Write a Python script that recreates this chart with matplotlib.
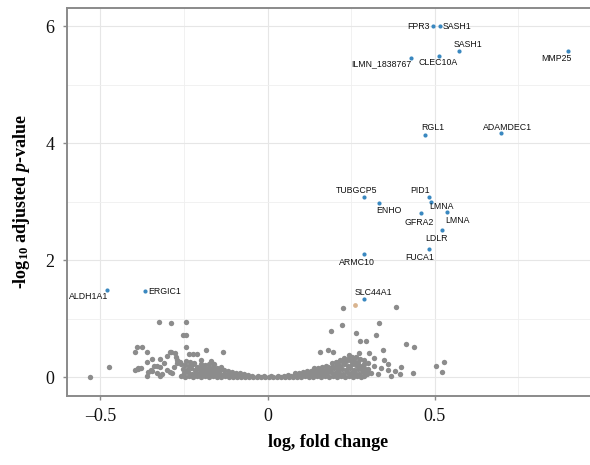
import numpy as np
import matplotlib
matplotlib.use('Agg')
import matplotlib.pyplot as plt
from matplotlib.ticker import MultipleLocator

# highlighted genes: name, log2 fold change, -log10 adjusted p
genes = ['FPR3', 'SASH1', 'SASH1', 'MMP25', 'ILMN_1838767', 'CLEC10A', 'RGL1', 'ADAMDEC1',
         'TUBGCP5', 'ENHO', 'PID1', 'LMNA', 'GFRA2', 'LMNA', 'LDLR', 'FUCA1', 'ARMC10',
         'SLC44A1', 'ALDH1A1', 'ERGIC1']
gene_fc = [0.494, 0.515, 0.572, 0.900, 0.428, 0.512, 0.470, 0.698,
           0.290, 0.335, 0.482, 0.488, 0.458, 0.536, 0.521, 0.482, 0.290,
           0.290, -0.479, -0.368]
gene_p = [6.00, 6.00, 5.57, 5.57, 5.45, 5.49, 4.14, 4.17,
          3.08, 2.97, 3.08, 2.99, 2.80, 2.82, 2.51, 2.19, 2.10,
          1.33, 1.49, 1.47]

# label placement (pixels from the point) and alignment
label_off = [(-3, 0), (3, 0), (9, 7), (-12, -7), (1, -5), (0, -7), (8, 7), (7, 6),
             (-8, 6), (9, -7), (-9, 6), (11, -4), (-1, -9), (11, -8), (-5, -8), (-9, -8), (-8, -8),
             (9, 7), (-19, -6), (4, 0)]
label_ha = ['right', 'left', 'center', 'center', 'right', 'center', 'center', 'center',
            'center', 'center', 'center', 'center', 'center', 'center', 'center', 'center', 'center',
            'center', 'center', 'left']

# all other probes (grey background cloud)
other_pts = [
    # dense core, along zero
    (-0.26, 0.02), (-0.248, 0.01), (-0.236, 0.03), (-0.224, 0.0), (-0.212, 0.02), (-0.20, 0.01),
    (-0.188, 0.03), (-0.176, 0.0), (-0.164, 0.02), (-0.152, 0.01), (-0.14, 0.0), (-0.128, 0.02),
    (-0.116, 0.01), (-0.104, 0.0), (-0.092, 0.01), (-0.08, 0.0), (-0.068, 0.01), (-0.056, 0.0),
    (-0.044, 0.01), (-0.032, 0.0), (-0.02, 0.0), (-0.008, 0.0), (0.004, 0.0), (0.016, 0.0),
    (0.028, 0.0), (0.04, 0.01), (0.052, 0.0), (0.064, 0.01), (0.076, 0.0), (0.088, 0.01),
    (0.10, 0.0), (0.112, 0.02), (0.124, 0.01), (0.136, 0.0), (0.148, 0.02), (0.16, 0.01),
    (0.172, 0.03), (0.184, 0.0), (0.196, 0.02), (0.208, 0.01), (0.22, 0.03), (0.232, 0.0),
    (0.244, 0.02), (0.256, 0.01), (0.268, 0.03), (0.28, 0.0), (0.29, 0.02),
    (-0.03, 0.02), (-0.01, 0.02), (0.01, 0.02), (0.03, 0.02),
    (-0.25, 0.07), (-0.238, 0.09), (-0.226, 0.06), (-0.214, 0.08), (-0.202, 0.07), (-0.19, 0.06),
    (-0.178, 0.08), (-0.166, 0.06), (-0.154, 0.07), (-0.142, 0.05), (-0.13, 0.06), (-0.118, 0.05),
    (-0.106, 0.04), (-0.094, 0.05), (-0.082, 0.03), (0.07, 0.03), (0.082, 0.04), (0.094, 0.05),
    (0.106, 0.04), (0.118, 0.06), (0.13, 0.05), (0.142, 0.07), (0.154, 0.06), (0.166, 0.08),
    (0.178, 0.07), (0.19, 0.09), (0.202, 0.07), (0.214, 0.08), (0.226, 0.06), (0.238, 0.09),
    (0.25, 0.07), (0.262, 0.08), (0.274, 0.06), (0.286, 0.09),
    (-0.13, 0.12), (-0.118, 0.10), (-0.106, 0.09), (-0.094, 0.08), (-0.082, 0.07), (-0.07, 0.05),
    (-0.058, 0.04), (-0.046, 0.03), (0.05, 0.03), (0.06, 0.04), (0.082, 0.07), (0.094, 0.08),
    (0.106, 0.09), (0.118, 0.10), (0.13, 0.11),
    (-0.252, 0.14), (-0.24, 0.12), (-0.228, 0.15), (-0.216, 0.13), (-0.204, 0.14), (-0.192, 0.12),
    (-0.18, 0.11), (-0.168, 0.12), (-0.156, 0.10), (-0.144, 0.11), (0.14, 0.10), (0.152, 0.11),
    (0.164, 0.12), (0.176, 0.13), (0.188, 0.12), (0.20, 0.15), (0.212, 0.13), (0.224, 0.14),
    (0.236, 0.12), (0.248, 0.15), (0.26, 0.13), (0.272, 0.14), (0.284, 0.12),
    (-0.176, 0.16), (-0.164, 0.18), (-0.152, 0.15), (-0.14, 0.14), (0.14, 0.15), (0.152, 0.16),
    (0.164, 0.17), (0.176, 0.20), (0.288, 0.16), (0.298, 0.05), (0.298, 0.11),
    (-0.248, 0.21), (-0.236, 0.19), (-0.224, 0.22), (-0.212, 0.18), (-0.20, 0.17), (-0.188, 0.16),
    (0.18, 0.17), (0.192, 0.18), (0.204, 0.20), (0.216, 0.19), (0.228, 0.22), (0.24, 0.20),
    (0.252, 0.23), (0.264, 0.21), (0.276, 0.19), (0.288, 0.22),
    (-0.2, 0.22), (-0.188, 0.21), (-0.176, 0.23), (0.192, 0.24), (0.204, 0.26),
    (-0.245, 0.28), (-0.232, 0.26), (-0.22, 0.25), (0.21, 0.26), (0.222, 0.28), (0.234, 0.27),
    (0.246, 0.30), (0.258, 0.28), (0.27, 0.26),
    (0.216, 0.30), (0.228, 0.33), (0.24, 0.32), (0.252, 0.35), (0.264, 0.34), (0.276, 0.31),
    # scattered, negative side
    (-0.326, 0.94), (-0.29, 0.92), (-0.243, 0.94), (-0.254, 0.72), (-0.243, 0.72), (-0.392, 0.51),
    (-0.377, 0.51), (-0.398, 0.44), (-0.362, 0.43), (-0.473, 0.17), (-0.53, 0.0), (-0.29, 0.43),
    (-0.243, 0.51), (-0.234, 0.39), (-0.222, 0.39), (-0.21, 0.39), (-0.183, 0.46), (-0.132, 0.43),
    (-0.347, 0.31), (-0.323, 0.31), (-0.389, 0.15), (-0.362, 0.03), (-0.38, 0.16), (-0.34, 0.20),
    (-0.31, 0.25), (-0.30, 0.12), (-0.33, 0.08), (-0.28, 0.18), (-0.27, 0.30), (-0.26, 0.22),
    (-0.35, 0.12), (-0.315, 0.05), (-0.285, 0.07), (-0.275, 0.35), (-0.20, 0.30), (-0.17, 0.28),
    (-0.16, 0.22), (-0.14, 0.18), (-0.30, 0.36), (-0.293, 0.43), (-0.278, 0.41), (-0.362, 0.26),
    (-0.332, 0.20), (-0.323, 0.17), (-0.398, 0.12), (-0.389, 0.14), (-0.359, 0.09), (-0.347, 0.10),
    (-0.323, 0.03), (-0.272, 0.24), (-0.263, 0.26), (-0.293, 0.09),
    # scattered, positive side
    (0.227, 1.18), (0.383, 1.20), (0.224, 0.89), (0.19, 0.79), (0.335, 0.92), (0.266, 0.75),
    (0.326, 0.73), (0.278, 0.62), (0.296, 0.62), (0.413, 0.56), (0.437, 0.51), (0.156, 0.44),
    (0.18, 0.46), (0.195, 0.43), (0.245, 0.38), (0.275, 0.41), (0.305, 0.41), (0.347, 0.46),
    (0.503, 0.19), (0.527, 0.26), (0.521, 0.09), (0.434, 0.07), (0.30, 0.25), (0.32, 0.20),
    (0.34, 0.15), (0.36, 0.22), (0.38, 0.10), (0.40, 0.18), (0.395, 0.05), (0.31, 0.08),
    (0.33, 0.05), (0.35, 0.30), (0.37, 0.02), (0.30, 0.14), (0.29, 0.30), (0.32, 0.33),
    (0.36, 0.12),
]
tan_pt = [(0.263, 1.23)]

plt.rcParams['mathtext.fontset'] = 'custom'
plt.rcParams['mathtext.rm'] = 'Liberation Serif:bold'
plt.rcParams['mathtext.it'] = 'Liberation Serif:italic:bold'
plt.rcParams['mathtext.bf'] = 'Liberation Serif:bold'

fig = plt.figure(figsize=(5.9, 4.65), dpi=100)
ax = fig.add_axes([0.1136, 0.1484, 0.8864, 0.8346])

ox, oy = np.array(other_pts).T
ax.scatter(ox, oy, s=15, color='#8c8c8c', linewidths=0, zorder=2)
tx, ty = np.array(tan_pt).T
ax.scatter(tx, ty, s=12, color='#d9b48f', linewidths=0, zorder=2)
ax.scatter(gene_fc, gene_p, s=9, color='#3a88c0', linewidths=0, zorder=3)

for name, x, y, off, ha in zip(genes, gene_fc, gene_p, label_off, label_ha):
    ax.annotate(name, (x, y), xytext=off, textcoords='offset pixels', ha=ha, va='center',
                fontsize=6.3, family='Liberation Sans', color='#111111', zorder=4)

ax.set_xlim(-0.6, 0.965)
ax.set_ylim(-0.32, 6.31)
ax.xaxis.set_minor_locator(MultipleLocator(0.25))
ax.yaxis.set_major_locator(MultipleLocator(2))
ax.yaxis.set_minor_locator(MultipleLocator(1))
ax.set_xticks([-0.5, 0, 0.5])
ax.set_xticklabels(['\u20130.5', '0', '0.5'])
ax.grid(which='major', color='#e6e6e6', lw=0.8, zorder=0)
ax.grid(which='minor', color='#efefef', lw=0.6, zorder=0)
ax.set_axisbelow(True)

for side in ['left', 'bottom', 'top']:
    ax.spines[side].set_color('#8a8a8a')
    ax.spines[side].set_linewidth(1.4)
ax.spines['right'].set_visible(False)
ax.tick_params(which='major', length=3, width=1, color='#8a8a8a', pad=6)
ax.tick_params(which='minor', length=0)
for lab in ax.get_xticklabels() + ax.get_yticklabels():
    lab.set_family('Liberation Serif')
    lab.set_fontsize(13)
    lab.set_color('#111111')

ax.set_xlabel('log, fold change', family='Liberation Serif', fontweight='bold', fontsize=13,
              labelpad=6)
ax.set_ylabel(r'-log$_{10}$ adjusted $p$-value', family='Liberation Serif', fontweight='bold',
              fontsize=13, labelpad=10)

fig.savefig('out.png', dpi=100)
